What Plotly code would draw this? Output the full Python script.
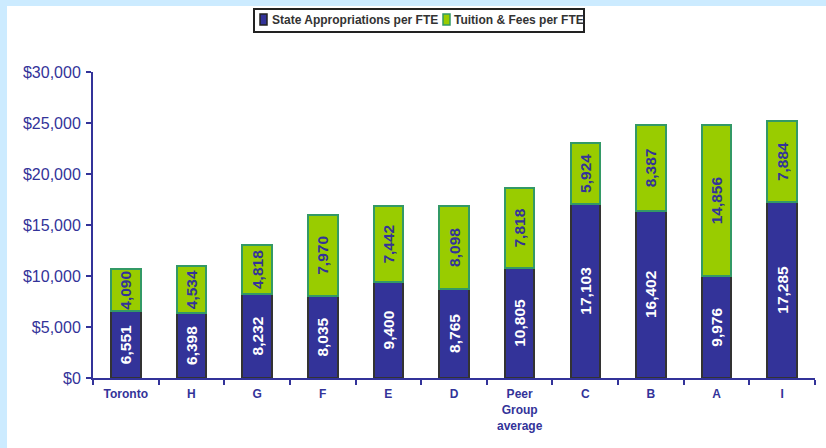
import plotly.graph_objects as go

categories = ["Toronto", "H", "G", "F", "E", "D", "Peer<br>Group<br>average", "C", "B", "A", "I"]
state_approp = [6551, 6398, 8232, 8035, 9400, 8765, 10805, 17103, 16402, 9976, 17285]
tuition_fees = [4090, 4534, 4818, 7970, 7442, 8098, 7818, 5924, 8387, 14856, 7884]
series_names = ["State Appropriations per FTE", "Tuition & Fees per FTE"]
y_tickvals = [0, 5000, 10000, 15000, 20000, 25000, 30000]
y_ticktext = ["$0", "$5,000", "$10,000", "$15,000", "$20,000", "$25,000", "$30,000"]

NAVY = "#333399"
GREEN = "#99CC00"
FONT = "Arial, Liberation Sans, sans-serif"

W, H = 826, 448
L, R, T, B = 93, 11, 72, 70
pw, ph = W - L - R, H - T - B


def px(x):
    return (x - L) / pw


def py(y):
    return (H - B - y) / ph


bar_font_white = dict(family=FONT, size=15.5, color="white", weight="bold")
bar_font_navy = dict(family=FONT, size=15.5, color=NAVY, weight="bold")

fig = go.Figure()
fig.add_trace(go.Bar(
    x=categories, y=state_approp, name=series_names[0],
    marker=dict(color=NAVY, line=dict(color="#333333", width=2)),
    texttemplate="%{y:,}", textposition="inside", textangle=-90,
    insidetextanchor="middle", constraintext="none",
    textfont=bar_font_white, insidetextfont=bar_font_white,
))
fig.add_trace(go.Bar(
    x=categories, y=tuition_fees, name=series_names[1],
    marker=dict(color=GREEN, line=dict(color="#339966", width=2)),
    texttemplate="%{y:,}", textposition="inside", textangle=-90,
    insidetextanchor="middle", constraintext="none",
    textfont=bar_font_navy, insidetextfont=bar_font_navy,
))

shapes = [
    # white page area (light-blue strips remain at left and top)
    dict(type="rect", xref="paper", yref="paper", layer="below",
         x0=px(7), x1=px(W + 5), y0=py(H + 5), y1=py(6),
         fillcolor="white", line=dict(width=0)),
    # legend box
    dict(type="rect", xref="paper", yref="paper", layer="above",
         x0=px(254), x1=px(584), y0=py(32), y1=py(9),
         fillcolor="white", line=dict(color="#222222", width=2)),
    # legend swatches
    dict(type="rect", xref="paper", yref="paper", layer="above",
         x0=px(260), x1=px(267), y0=py(25), y1=py(14),
         fillcolor=NAVY, line=dict(color="#222222", width=1.5)),
    dict(type="rect", xref="paper", yref="paper", layer="above",
         x0=px(443), x1=px(450), y0=py(25), y1=py(14),
         fillcolor=GREEN, line=dict(color="#339966", width=1.5)),
]
annotations = [
    dict(xref="paper", yref="paper", x=px(270), y=py(20), xanchor="left", yanchor="middle",
         text=series_names[0], showarrow=False,
         font=dict(family=FONT, size=12, color="#333333", weight="bold")),
    dict(xref="paper", yref="paper", x=px(452), y=py(20), xanchor="left", yanchor="middle",
         text=series_names[1], showarrow=False,
         font=dict(family=FONT, size=12, color="#333333", weight="bold")),
]

fig.update_layout(
    width=W, height=H,
    margin=dict(l=L, r=R, t=T, b=B, autoexpand=False),
    barmode="stack", bargap=0.55,
    paper_bgcolor="#CCEBFF", plot_bgcolor="white",
    font=dict(family=FONT, color=NAVY),
    showlegend=False,
    shapes=shapes,
    annotations=annotations,
)
fig.update_xaxes(
    showline=True, linecolor=NAVY, linewidth=2,
    ticks="outside", tickson="boundaries", ticklen=5, tickcolor=NAVY, tickwidth=2,
    tickfont=dict(size=12, color=NAVY, weight="bold"), ticklabelstandoff=4,
    showgrid=False, automargin=False,
)
fig.update_yaxes(
    range=[0, 30000], tickvals=y_tickvals, ticktext=y_ticktext,
    showline=True, linecolor=NAVY, linewidth=2,
    ticks="outside", ticklen=5, tickcolor=NAVY, tickwidth=2,
    tickfont=dict(size=16, color=NAVY), ticklabelstandoff=2,
    showgrid=False, zeroline=False, automargin=False,
)

fig.write_html(
    "out.html",
    config={"displayModeBar": False},
    post_script="document.body.style.margin='0';document.body.style.overflow='hidden';",
)
